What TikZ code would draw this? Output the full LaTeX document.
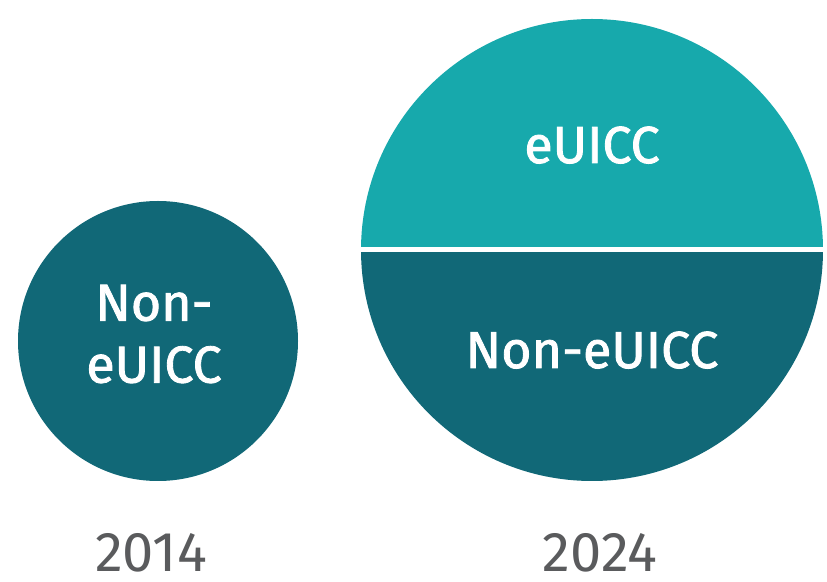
\documentclass[tikz,border=0pt]{standalone}
\usepackage{fontspec}
\setmainfont{Fira Sans}
\newfontfamily\circlefont{Fira Sans}[FakeBold=1.6]
\usepackage{tikz}

\definecolor{darkteal}{HTML}{116877}
\definecolor{lightteal}{HTML}{17A9AC}
\definecolor{yeargray}{HTML}{5A5B5D}

\tikzset{
	inlabel/.style={text=white, font=\circlefont\fontsize{52}{62}\selectfont, inner sep=0pt},
	yearlabel/.style={text=yeargray, font=\fontsize{56}{62}\selectfont, inner sep=0pt, anchor=base}
}

\begin{document}
\begin{tikzpicture}[x=1pt,y=1pt]
	% 画布大小
	\useasboundingbox (0,0) rectangle (827,581);
	
	% 小圆,圆心 (158,240),半径 140
	\fill[darkteal] (158,240) circle (140);
	
	% 大圆,圆心 (592,331),半径 231
	\pgfmathsetmacro{\r}{231} % 大圆半径
	% 上半圆
	\fill[lightteal] (592-\r,331) arc (180:0:\r) -- cycle;
	% 下半圆
	\fill[darkteal] (592-\r,331) arc (180:360:\r) -- cycle;
	% 中间的白色分隔线
	\draw[white, line width=5] (592-\r-2,331) -- (592+\r+2,331);
	
	% 圆内文字
	\node[inlabel, align=center] (old) at (154,247) {Non-\\eUICC};
	\node[inlabel, anchor=base] (newtop) at (592,418) {eUICC};
	\node[inlabel, anchor=base] (newbot) at (592,213) {Non-eUICC};
	
	% 年份
	\node[yearlabel] (y2014) at (151,10) {2014};
	\node[yearlabel] (y2024) at (600,10) {2024};
	
\end{tikzpicture}
\end{document}
